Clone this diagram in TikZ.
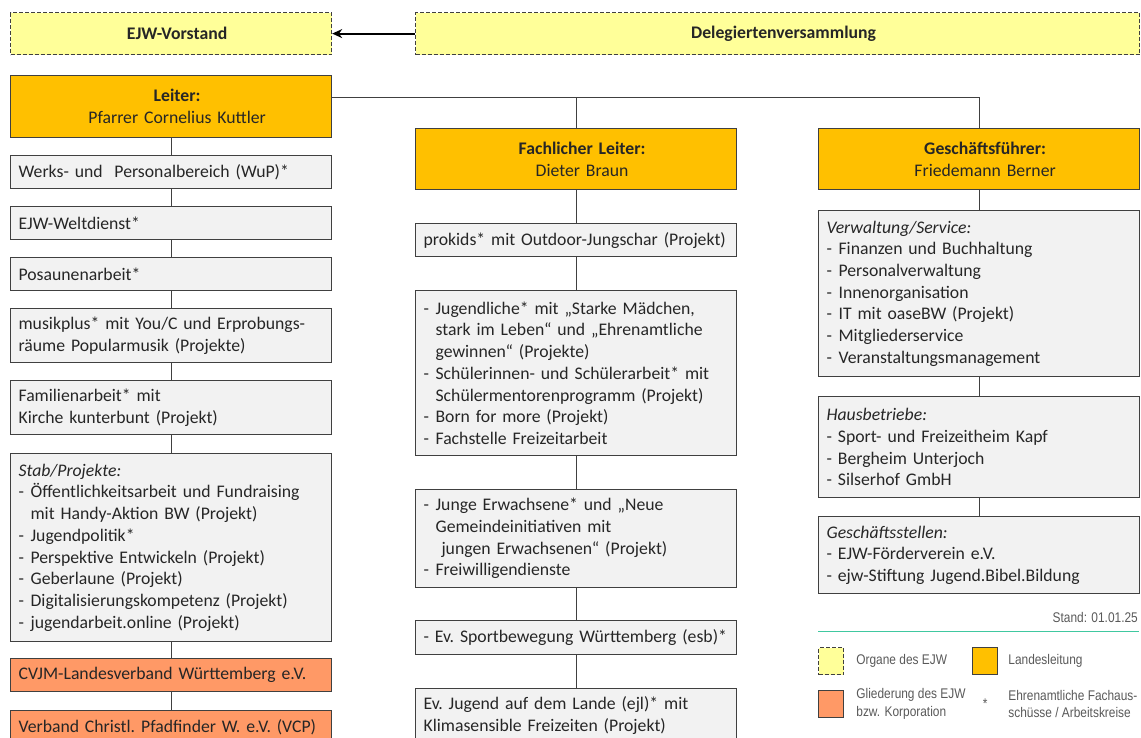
\documentclass[tikz,border=0pt]{standalone}
\usepackage{fontspec}
\setmainfont{Carlito}
\newfontfamily\legendfont[FakeStretch=0.85]{Liberation Sans}
\usetikzlibrary{arrows.meta,positioning}
\definecolor{organyellow}{HTML}{FFFF99}
\definecolor{headorange}{HTML}{FFC000}
\definecolor{membersalmon}{HTML}{FF9966}
\definecolor{boxgray}{HTML}{F2F2F2}
\definecolor{rimgray}{HTML}{404040}
\definecolor{legendgray}{HTML}{595959}
\definecolor{rulegreen}{HTML}{40C8A0}
\newcommand{\boxfont}{\fontsize{17.7pt}{21.7pt}\selectfont\frenchspacing}
\newcommand{\legfont}{\legendfont\fontsize{14pt}{17.5pt}\selectfont}
\newcommand{\li}{\makebox[12pt][l]{-}}
\newcommand{\ind}{\hspace*{12pt}}
\tikzstyle{line} = [draw=rimgray, line width=0.9pt]
\tikzstyle{arrow} = [draw=black, line width=2pt, -{Stealth[length=10pt, width=9pt]}]
\tikzstyle{box} = [rectangle, draw=rimgray, line width=1.2pt, fill=boxgray,
  anchor=north west, minimum width=321pt, text width=305pt, inner xsep=8pt,
  align=left, font=\boxfont, text=black!85,
  execute at begin node={\rightskip=-12pt plus 2em\relax\hyphenpenalty=10000\relax}]
\tikzstyle{head} = [box, fill=headorange, align=center,
  execute at begin node={}]
\tikzstyle{organ} = [box, fill=organyellow, dash pattern=on 4pt off 2pt, align=center,
  execute at begin node={}]
\tikzstyle{member} = [box, fill=membersalmon]
\tikzstyle{key} = [rectangle, draw=rimgray, line width=1.2pt, anchor=north west,
  minimum width=25pt, minimum height=27pt, inner sep=0pt]
\tikzstyle{legtext} = [font=\legfont, text=legendgray, align=left, inner sep=0pt]

\begin{document}
\begin{tikzpicture}[x=1pt, y=-1pt]
  \useasboundingbox (0,0) rectangle (1141,738);
  % Organe
  \node [organ, minimum height=42pt] (vorstand) at (10,12) {\textbf{EJW-Vorstand}};
  \node [organ, minimum height=42pt, minimum width=724pt, text width=708pt] (deleg)
    at (415,12) {\textbf{Delegiertenversammlung}};
  % Landesleitung
  \node [head, minimum height=62pt] (leiter) at (10,75)
    {\textbf{Leiter:}\\Pfarrer Cornelius Kuttler};
  \node [head, minimum height=61pt] (fachl) at (415,128)
    {\textbf{Fachlicher Leiter:}\\Dieter Braun};
  \node [head, minimum height=61pt] (gf) at (818,128)
    {\textbf{Geschäftsführer:}\\Friedemann Berner};
  % left column
  \node [box, minimum height=33pt] (wup) at (10,155) {Werks- und~ Personalbereich (WuP)*};
  \node [box, minimum height=33pt] (welt) at (10,206) {EJW-Weltdienst*};
  \node [box, minimum height=33pt] (posaune) at (10,257) {Posaunenarbeit*};
  \node [box, minimum height=54pt] (musik) at (10,308)
    {musikplus* mit You/C und Erprobungs-\\räume Popularmusik (Projekte)};
  \node [box, minimum height=54pt] (familie) at (10,380)
    {Familienarbeit* mit\\Kirche kunterbunt (Projekt)};
  \node [box, minimum height=188pt] (stab) at (10,453)
    {\textit{Stab/Projekte:}\\
     \li Öffentlichkeitsarbeit und Fundraising\\
     \ind mit Handy-Aktion BW (Projekt)\\
     \li Jugendpolitik*\\
     \li Perspektive Entwickeln (Projekt)\\
     \li Geberlaune (Projekt)\\
     \li Digitalisierungskompetenz (Projekt)\\
     \li jugendarbeit.online (Projekt)};
  \node [member, minimum height=33pt] (cvjm) at (10,658) {CVJM-Landesverband Württemberg e.V.};
  \node [member, minimum height=33pt] (vcp) at (10,710) {Verband Christl. Pfadfinder W. e.V. (VCP)};
  % middle column
  \node [box, minimum height=33pt] (prokids) at (415,223) {prokids* mit Outdoor-Jungschar (Projekt)};
  \node [box, minimum height=165pt] (jugend) at (415,290)
    {\li Jugendliche* mit „Starke Mädchen,\\
     \ind stark im Leben“ und „Ehrenamtliche\\
     \ind gewinnen“ (Projekte)\\
     \li Schülerinnen- und Schülerarbeit* mit\\
     \ind Schülermentorenprogramm (Projekt)\\
     \li Born for more (Projekt)\\
     \li Fachstelle Freizeitarbeit};
  \node [box, minimum height=98pt] (junge) at (415,489)
    {\li Junge Erwachsene* und „Neue\\
     \ind Gemeindeinitiativen mit\\
     \ind\ jungen Erwachsenen“ (Projekt)\\
     \li Freiwilligendienste};
  \node [box, minimum height=34pt] (sport) at (415,620) {- Ev. Sportbewegung Württemberg (esb)*};
  \node [box, minimum height=54pt] (ejl) at (415,688)
    {Ev. Jugend auf dem Lande (ejl)* mit\\Klimasensible Freizeiten (Projekt)};
  % right column
  \node [box, minimum height=166pt] (verw) at (818,210)
    {\textit{Verwaltung/Service:}\\
     \li Finanzen und Buchhaltung\\
     \li Personalverwaltung\\
     \li Innenorganisation\\
     \li IT mit oaseBW (Projekt)\\
     \li Mitgliederservice\\
     \li Veranstaltungsmanagement};
  \node [box, minimum height=101pt] (haus) at (818,396)
    {\textit{Hausbetriebe:}\\
     - Sport- und Freizeitheim Kapf\\
     - Bergheim Unterjoch\\
     - Silserhof GmbH};
  \node [box, minimum height=77pt] (gst) at (818,516)
    {\textit{Geschäftsstellen:}\\
     - EJW-Förderverein e.V.\\
     - ejw-Stiftung Jugend.Bibel.Bildung};
  % connectors
  \foreach \a/\b in {leiter/wup, wup/welt, welt/posaune, posaune/musik, musik/familie,
      familie/stab, stab/cvjm, cvjm/vcp, fachl/prokids, prokids/jugend, jugend/junge,
      junge/sport, sport/ejl, gf/verw, verw/haus, haus/gst}
    \path [line] (\a.south) -- (\b.north);
  \coordinate (branch) at ([yshift=9pt]leiter.east);
  \path [line] (branch) -| (gf.north);
  \path [line] (branch -| fachl.north) -- (fachl.north);
  \path [arrow] (deleg.west) -- (vorstand.east);
  % legend
  \node [legtext, anchor=east] (stand) at (1138,617) {Stand: 01.01.25};
  \coordinate (ruleL) at (818,631);
  \coordinate (ruleR) at (1139,631);
  \draw [rulegreen, line width=1pt] (ruleL) -- (ruleR);
  \node [key, fill=organyellow, dash pattern=on 4pt off 2pt] (keyorgan) at (818,647) {};
  \node [legtext, right=12pt of keyorgan] (txtorgan) {Organe des EJW};
  \node [key, fill=headorange] (keyhead) at (972,647) {};
  \node [legtext, right=10pt of keyhead] (txthead) {Landesleitung};
  \node [key, fill=membersalmon] (keymember) at (818,690) {};
  \node [legtext, right=12pt of keymember] (txtmember) {Gliederung des EJW\\bzw. Korporation};
  \node [legtext] (keystar) at (keyhead.center |- keymember.center) {*};
  \node [legtext, anchor=west] (txtstar) at (txthead.west |- keymember.center)
    {Ehrenamtliche Fachaus-\\schüsse / Arbeitskreise};
\end{tikzpicture}
\end{document}
